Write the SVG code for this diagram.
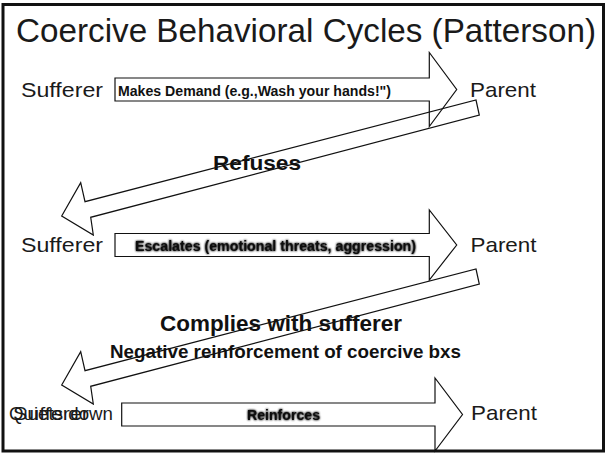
<svg xmlns="http://www.w3.org/2000/svg" width="605" height="453" viewBox="0 0 605 453">
  <style>
    .lbl { font-family: "Liberation Sans", Arial, sans-serif; fill: #1a1a1a; }
    .node { font-size: 21px; }
    .bold { font-weight: bold; fill: #111; }
    .arrow { fill: none; stroke: #111; stroke-width: 1.2; stroke-linejoin: miter; }
  </style>
  <defs>
    <filter id="halo" x="-10%" y="-50%" width="120%" height="200%">
      <feGaussianBlur in="SourceAlpha" stdDeviation="1.1" result="b"/>
      <feComponentTransfer in="b" result="h">
        <feFuncA type="linear" slope="1.3"/>
      </feComponentTransfer>
      <feMerge>
        <feMergeNode in="h"/>
        <feMergeNode in="SourceGraphic"/>
      </feMerge>
    </filter>
  </defs>

  <rect x="3" y="4.5" width="600.5" height="446.5" fill="#fff" stroke="#111" stroke-width="3"/>

  <text class="lbl" x="16" y="42" font-size="34" textLength="580" lengthAdjust="spacingAndGlyphs">Coercive Behavioral Cycles (Patterson)</text>

  <!-- row 1 -->
  <g id="sufferer-1">
    <text class="lbl node" x="21" y="97" textLength="82" lengthAdjust="spacingAndGlyphs">Sufferer</text>
  </g>
  <g id="parent-1">
    <text class="lbl node" x="470" y="97" textLength="66" lengthAdjust="spacingAndGlyphs">Parent</text>
  </g>
  <!-- row 2 -->
  <g id="sufferer-2">
    <text class="lbl node" x="21" y="252" textLength="82" lengthAdjust="spacingAndGlyphs">Sufferer</text>
  </g>
  <g id="parent-2">
    <text class="lbl node" x="470.5" y="252" textLength="66" lengthAdjust="spacingAndGlyphs">Parent</text>
  </g>
  <!-- row 3 -->
  <g id="sufferer-3">
    <text class="lbl" x="9" y="420" font-size="19" textLength="104" lengthAdjust="spacingAndGlyphs">Quiets down</text>
    <text class="lbl" x="13" y="420" font-size="19" textLength="76" lengthAdjust="spacingAndGlyphs">Sufferer</text>
  </g>
  <g id="parent-3">
    <text class="lbl node" x="471" y="420" textLength="66" lengthAdjust="spacingAndGlyphs">Parent</text>
  </g>

  <g id="connectors">
    <!-- makes demand -->
    <polygon class="arrow" points="115,78 429.3,78 429.3,52.5 456.7,89.5 429.3,126.5 429.3,101 115,101"/>
    <!-- refuses -->
    <polygon class="arrow" points="476,100 479.3,115 90.7,217.3 93.3,235 61.7,216 80.7,182.7 85,201.7"/>
    <!-- escalates -->
    <polygon class="arrow" points="115,233.5 429.3,233.5 429.3,210 456.7,245 429.3,280 429.3,256.5 115,256.5"/>
    <!-- complies -->
    <polygon class="arrow" points="476,269 479.3,284 90.7,386.3 93.3,404 61.7,385 80.7,351.7 85,370.7"/>
    <!-- reinforces -->
    <polygon class="arrow" points="121.7,403 435,403 435,378 462.5,414.5 435,451 435,426 121.7,426"/>

    <text class="lbl bold" x="118" y="96" font-size="14" textLength="273" lengthAdjust="spacingAndGlyphs">Makes Demand (e.g.,Wash your hands!")</text>
    <text class="lbl bold" x="213" y="170" font-size="21" textLength="88" lengthAdjust="spacingAndGlyphs">Refuses</text>
    <text class="lbl bold" x="135" y="251" font-size="14" textLength="281" lengthAdjust="spacingAndGlyphs" filter="url(#halo)">Escalates (emotional threats, aggression)</text>
    <text class="lbl bold" x="160" y="331" font-size="22" textLength="242" lengthAdjust="spacingAndGlyphs">Complies with sufferer</text>
    <text class="lbl bold" x="110" y="358" font-size="18.5" textLength="351" lengthAdjust="spacingAndGlyphs">Negative reinforcement of coercive bxs</text>
    <text class="lbl bold" x="247" y="420" font-size="14" textLength="73" lengthAdjust="spacingAndGlyphs" filter="url(#halo)">Reinforces</text>
  </g>
</svg>
